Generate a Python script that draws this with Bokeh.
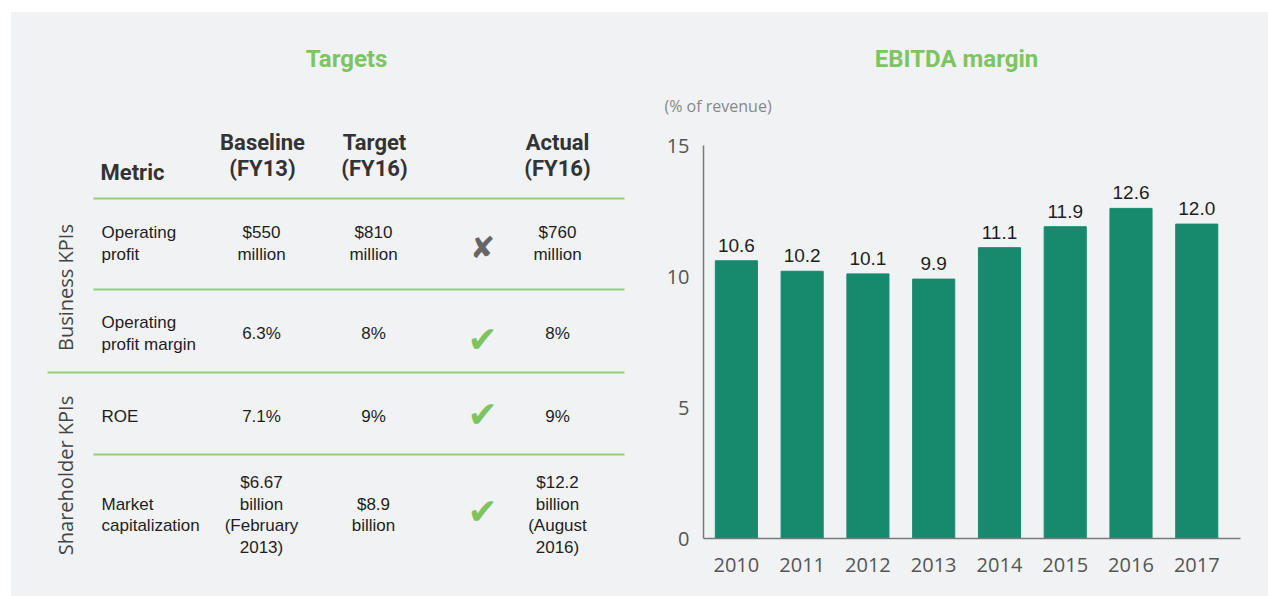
import numpy as np
from bokeh.plotting import figure
from bokeh.models import Range1d, FixedTicker
from bokeh.core.properties import value
from bokeh.embed import file_html
from bokeh.resources import INLINE

# ---------------- data ----------------
years = ["2010", "2011", "2012", "2013", "2014", "2015", "2016", "2017"]
ebitda_margin = [10.6, 10.2, 10.1, 9.9, 11.1, 11.9, 12.6, 12.0]

header_cols = ["Baseline", "Target", "Actual"]
header_sub = ["(FY13)", "(FY16)", "(FY16)"]
metrics = ["Operating\nprofit", "Operating\nprofit margin", "ROE", "Market\ncapitalization"]
baseline = ["$550\nmillion", "6.3%", "7.1%", "$6.67\nbillion\n(February\n2013)"]
target = ["$810\nmillion", "8%", "9%", "$8.9\nbillion"]
achieved = [False, True, True, True]
actual = ["$760\nmillion", "8%", "9%", "$12.2\nbillion\n(August\n2016)"]
groups = ["Business KPIs", "Shareholder KPIs"]

# ---------------- styles ----------------
BG = "#F1F2F4"
GREEN_T = "#7DC562"
LINE_G = "#93CF7B"
BAR = "#178A6E"
DARK = "#333333"
CELL = "#1E1E1E"
W, H = 1268, 596

# ---------------- background page: panel, table, titles ----------------
pl = figure(width=W, height=H, x_range=Range1d(0, W), y_range=Range1d(H, 0),
            output_backend="svg", toolbar_location=None, min_border=0,
            x_axis_type=None, y_axis_type=None,
            background_fill_color=BG, border_fill_color=BG, outline_line_color=None)
pl.grid.visible = False

# white page strips (top / left of the panel)
pl.quad(left=[0, 0], right=[W, 10], top=[0, 0], bottom=[11, H], color="white")

title_kw = dict(text_align="center", text_baseline="middle", text_font=value("Roboto"),
                text_font_style="bold", text_font_size="24px", text_color=GREEN_T)
pl.text(x=[346], y=[58], text=["Targets"], **title_kw)
pl.text(x=[956], y=[58], text=["EBITDA margin"], **title_kw)
pl.text(x=[664], y=[105], text=["(% of revenue)"], text_align="left", text_baseline="middle",
        text_font=value("Open Sans"), text_font_size="16px", text_color="#888888")

col_x = [262, 374, 557]
head_kw = dict(text_baseline="middle", text_font=value("Roboto"), text_font_style="bold",
               text_font_size="22px", text_color=DARK)
pl.text(x=[100], y=[172], text=["Metric"], text_align="left", **head_kw)
pl.text(x=col_x, y=[142] * 3, text=header_cols, text_align="center", **head_kw)
pl.text(x=col_x, y=[168] * 3, text=header_sub, text_align="center", **head_kw)

# separators
pl.segment(x0=[93, 93, 47, 93], x1=[624] * 4, y0=[198, 289, 372, 454], y1=[198, 289, 372, 454],
           line_color=LINE_G, line_width=2)

row_y = [243, 333, 416, 514.5]
cell_kw = dict(text_baseline="middle", text_font=value("Liberation Sans"),
               text_font_size="17px", text_color=CELL, text_line_height=1.13)
pl.text(x=[101] * 4, y=row_y, text=metrics, text_align="left", **cell_kw)
pl.text(x=[261] * 4, y=row_y, text=baseline, text_align="center", **cell_kw)
pl.text(x=[373] * 4, y=row_y, text=target, text_align="center", **cell_kw)
pl.text(x=[557] * 4, y=row_y, text=actual, text_align="center", **cell_kw)

marks = ["\u2714" if a else "\u2718" for a in achieved]
mark_col = ["#7DC460" if a else "#666666" for a in achieved]
mark_size = ["36px" if a else "30px" for a in achieved]
mark_y = [247, 339, 414, 511]
pl.text(x=[482] * 4, y=mark_y, text=marks, text_align="center", text_baseline="middle",
        text_font=value("DejaVu Sans"), text_font_size=mark_size, text_color=mark_col)

pl.text(x=[65, 65], y=[287, 475], text=groups, angle=np.pi / 2, text_align="center",
        text_baseline="middle", text_font=value("Open Sans"), text_font_size="20px",
        text_color="#444444")

# ---------------- bar chart (overlaid, transparent) ----------------
xs = list(range(len(years)))
pr = figure(width=628, height=585, x_range=Range1d(-0.5, 7.665), y_range=Range1d(0, 15),
            output_backend="svg", toolbar_location=None,
            min_border_left=63, min_border_right=28, min_border_top=134, min_border_bottom=58,
            background_fill_alpha=0, border_fill_alpha=0, outline_line_color=None)
pr.grid.visible = False
pr.styles = {"position": "absolute", "left": "640px", "top": "11px"}

pr.vbar(x=xs, top=ebitda_margin, width=0.64, color=BAR)
pr.text(x=xs, y=ebitda_margin, text=[f"{v:.1f}" for v in ebitda_margin],
        text_align="center", text_baseline="bottom", y_offset=-9,
        text_font=value("Liberation Sans"), text_font_size="19px", text_color=CELL)

for ax in (pr.xaxis[0], pr.yaxis[0]):
    ax.axis_line_color = "#7A7A7A"
    ax.axis_line_width = 1.5
    ax.major_tick_line_color = None
    ax.minor_tick_line_color = None
    ax.major_tick_out = 0
    ax.major_tick_in = 0
    ax.minor_tick_out = 0
    ax.major_label_text_font = "Open Sans"
    ax.major_label_text_font_size = "20px"
    ax.major_label_text_color = "#555555"

pr.xaxis.ticker = FixedTicker(ticks=xs)
pr.xaxis.major_label_overrides = {i: y for i, y in zip(xs, years)}
pr.xaxis.major_label_standoff = 19
pr.yaxis.ticker = FixedTicker(ticks=[0, 5, 10, 15])
pr.yaxis.major_label_standoff = 14

open("out.html", "w").write(file_html((pl, pr), INLINE))
